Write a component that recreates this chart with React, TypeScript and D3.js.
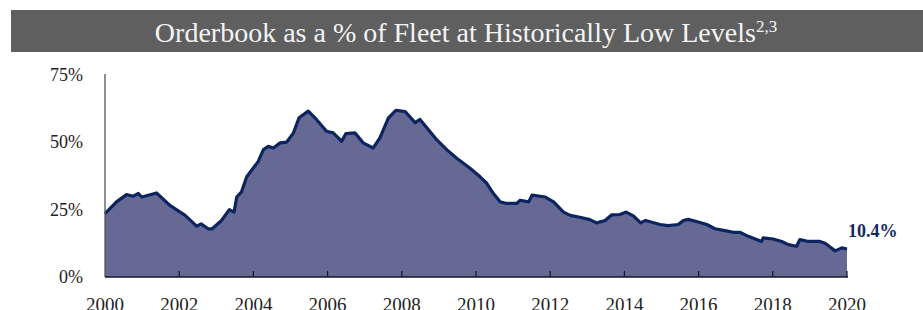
import React from "react";
import * as d3 from "d3";

// orderbook as % of fleet (decimal year, %)
const years = [
  2000.0, 2000.31, 2000.58, 2000.76, 2000.9, 2000.99, 2001.39, 2001.75, 2002.16, 2002.47,
  2002.59, 2002.78, 2002.89, 2003.14, 2003.35, 2003.48, 2003.55, 2003.68, 2003.82, 2004.13,
  2004.27, 2004.4, 2004.54, 2004.72, 2004.9, 2005.08, 2005.23, 2005.48, 2005.7, 2005.97,
  2006.15, 2006.38, 2006.49, 2006.74, 2006.96, 2007.23, 2007.41, 2007.64, 2007.84, 2008.09,
  2008.36, 2008.49, 2008.72, 2008.94, 2009.21, 2009.48, 2009.84, 2010.11, 2010.29, 2010.47,
  2010.65, 2010.83, 2011.1, 2011.19, 2011.42, 2011.51, 2011.87, 2012.09, 2012.36, 2012.54,
  2012.8, 2013.07, 2013.25, 2013.48, 2013.66, 2013.88, 2014.05, 2014.25, 2014.44, 2014.57,
  2014.96, 2015.18, 2015.45, 2015.59, 2015.72, 2015.99, 2016.22, 2016.44, 2016.71, 2016.93,
  2017.11, 2017.34, 2017.7, 2017.74, 2018.01, 2018.24, 2018.42, 2018.64, 2018.73, 2018.96,
  2019.1, 2019.27, 2019.41, 2019.68, 2019.86, 2020.0,
];
const values = [
  23.5, 27.9, 30.6, 30.0, 31.0, 29.7, 31.2, 26.6, 22.9, 18.9,
  19.7, 17.9, 17.9, 21.0, 25.0, 24.1, 29.7, 31.6, 37.2, 42.9,
  47.3, 48.5, 47.9, 49.8, 50.1, 53.5, 59.1, 61.6, 58.5, 54.1,
  53.5, 50.4, 53.2, 53.5, 49.8, 47.9, 51.7, 59.1, 61.9, 61.4,
  57.3, 58.5, 54.7, 51.0, 47.3, 44.1, 40.4, 37.2, 34.8, 31.0,
  27.9, 27.3, 27.3, 28.5, 27.9, 30.4, 29.7, 27.9, 24.1, 22.9,
  22.2, 21.3, 20.1, 21.0, 23.1, 23.2, 24.1, 22.6, 20.1, 21.0,
  19.5, 19.1, 19.5, 21.0, 21.4, 20.4, 19.5, 17.9, 17.2, 16.6,
  16.6, 15.1, 13.2, 14.5, 14.1, 13.2, 12.0, 11.4, 13.9, 13.2,
  13.2, 13.2, 12.5, 9.7, 10.8, 10.4,
];
const yTicks = [0, 25, 50, 75];
const xTicks = [2000, 2002, 2004, 2006, 2008, 2010, 2012, 2014, 2016, 2018, 2020];
const title = "Orderbook as a % of Fleet at Historically Low Levels";
const lastLabel = "10.4%";

const W = 923;
const H = 310;
const FONT = "'Liberation Serif', 'Times New Roman', serif";

export default function App() {
  const x = d3.scaleLinear().domain([2000, 2020]).range([105, 847]);
  const y = d3.scaleLinear().domain([0, 75]).range([277, 75]);

  const pts: [number, number][] = years.map((yr, i) => [yr, values[i]]);

  const area = d3
    .area<[number, number]>()
    .x((d) => x(d[0]))
    .y0(y(0))
    .y1((d) => y(d[1]));
  const line = d3
    .line<[number, number]>()
    .x((d) => x(d[0]))
    .y((d) => y(d[1]));

  const last = pts[pts.length - 1];

  return (
    <svg
      width={W}
      height={H}
      style={{ position: "absolute", left: 0, top: 0, background: "#fff" }}
    >
      {/* title bar */}
      <rect x={11} y={10} width={W - 11} height={42} fill="#5f5f5f" />
      <text
        x={466}
        y={42}
        textAnchor="middle"
        fill="#f4f4f4"
        fontFamily={FONT}
        fontSize={28}
      >
        {title}
        <tspan fontSize={17} dy={-10}>
          2,3
        </tspan>
      </text>

      {/* area + line */}
      <path d={area(pts) || ""} fill="#666994" />
      <path
        d={line(pts) || ""}
        fill="none"
        stroke="#0c2561"
        strokeWidth={3.2}
        strokeLinejoin="round"
      />

      {/* y axis */}
      <line x1={105} x2={105} y1={y(75) - 1} y2={y(0)} stroke="#555" strokeWidth={1.3} />
      {yTicks.map((t) => (
        <text
          key={t}
          x={83}
          y={y(t) + 6}
          textAnchor="end"
          fontFamily={FONT}
          fontSize={18}
          fill="#222"
        >
          {t}%
        </text>
      ))}

      {/* x axis */}
      <line x1={105} x2={848} y1={y(0)} y2={y(0)} stroke="#101828" strokeWidth={1.5} />
      {xTicks.map((t) => (
        <g key={t}>
          {t > 2000 && (
            <line x1={x(t)} x2={x(t)} y1={y(0)} y2={y(0) - 6} stroke="#101828" strokeWidth={1.2} />
          )}
          <text
            x={x(t)}
            y={311}
            textAnchor="middle"
            fontFamily={FONT}
            fontSize={19}
            fill="#222"
          >
            {t}
          </text>
        </g>
      ))}

      {/* end label */}
      <text
        x={x(last[0]) + 1}
        y={237}
        fontFamily={FONT}
        fontSize={18}
        fontWeight="bold"
        fill="#14285e"
      >
        {lastLabel}
      </text>
    </svg>
  );
}
